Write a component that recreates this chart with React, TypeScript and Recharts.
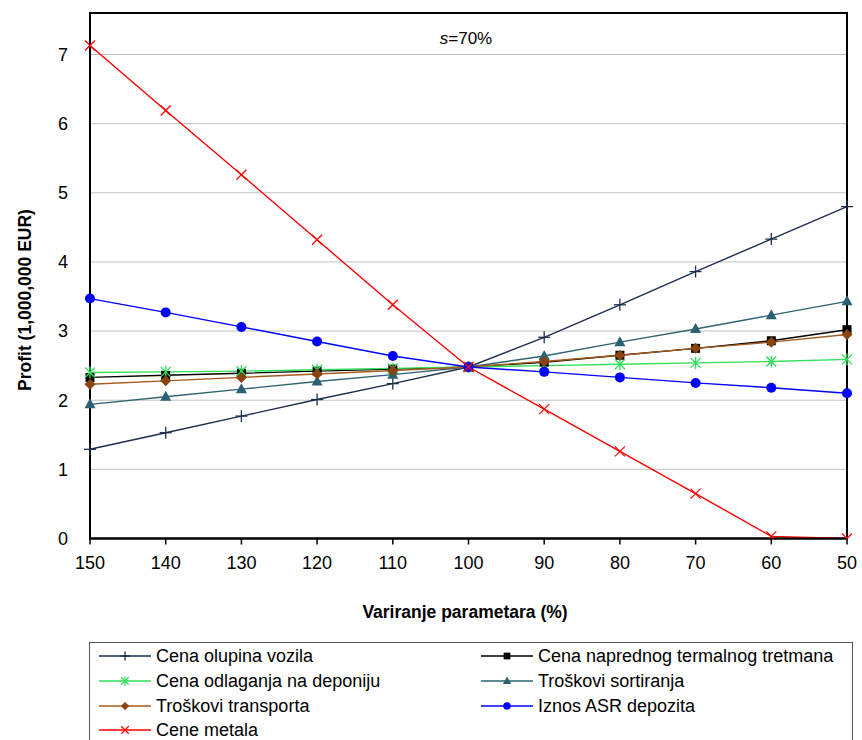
import React from "react";
import {
  LineChart,
  Line,
  XAxis,
  YAxis,
  CartesianGrid,
  ReferenceArea,
} from "recharts";

const categories = ["150", "140", "130", "120", "110", "100", "90", "80", "70", "60", "50"];

const olupina = [1.29, 1.53, 1.77, 2.01, 2.24, 2.48, 2.91, 3.38, 3.86, 4.33, 4.8];
const termalni = [2.33, 2.36, 2.39, 2.42, 2.45, 2.48, 2.55, 2.65, 2.75, 2.86, 3.02];
const deponija = [2.4, 2.41, 2.42, 2.44, 2.46, 2.48, 2.5, 2.52, 2.54, 2.56, 2.59];
const sortiranje = [1.94, 2.05, 2.16, 2.27, 2.37, 2.48, 2.64, 2.84, 3.03, 3.23, 3.43];
const transport = [2.23, 2.28, 2.33, 2.38, 2.43, 2.48, 2.56, 2.65, 2.75, 2.84, 2.95];
const asrDepozit = [3.47, 3.27, 3.06, 2.85, 2.64, 2.48, 2.41, 2.33, 2.25, 2.18, 2.1];
const metali = [7.13, 6.19, 5.26, 4.32, 3.38, 2.48, 1.87, 1.26, 0.65, 0.03, 0.0];

const yTicks = [0, 1, 2, 3, 4, 5, 6, 7];

type MarkerKind = "plus" | "square" | "star" | "triangle" | "diamond" | "circle" | "cross";

const series: { key: string; name: string; color: string; fill: string; marker: MarkerKind; values: number[] }[] = [
  { key: "olupina", name: "Cena olupina vozila", color: "#1c2e4e", fill: "#1c2e4e", marker: "plus", values: olupina },
  { key: "termalni", name: "Cena naprednog termalnog tretmana", color: "#000000", fill: "#000000", marker: "square", values: termalni },
  { key: "deponija", name: "Cena odlaganja na deponiju", color: "#2ee05a", fill: "#2ee05a", marker: "star", values: deponija },
  { key: "sortiranje", name: "Troškovi sortiranja", color: "#2e6474", fill: "#2b6172", marker: "triangle", values: sortiranje },
  { key: "transport", name: "Troškovi transporta", color: "#a65a1c", fill: "#8a4410", marker: "diamond", values: transport },
  { key: "asr", name: "Iznos ASR depozita", color: "#0000ff", fill: "#0000ff", marker: "circle", values: asrDepozit },
  { key: "metali", name: "Cene metala", color: "#ff0000", fill: "#ff0000", marker: "cross", values: metali },
];

const data = categories.map((c, i) => {
  const row: Record<string, string | number> = { cat: c };
  series.forEach((s) => {
    row[s.key] = s.values[i];
  });
  return row;
});

const FONT = "Arial, 'Liberation Sans', sans-serif";

// k scales the marker (legend uses smaller ones)
function Marker({ kind, cx, cy, color, fill, k = 1 }: { kind: MarkerKind; cx: number; cy: number; color: string; fill: string; k?: number }) {
  switch (kind) {
    case "plus":
      return (
        <g stroke={color} strokeWidth={1.3}>
          <line x1={cx - 6 * k} y1={cy} x2={cx + 6 * k} y2={cy} />
          <line x1={cx} y1={cy - 6 * k} x2={cx} y2={cy + 6 * k} />
        </g>
      );
    case "cross":
      return (
        <g stroke={color} strokeWidth={1.2}>
          <line x1={cx - 5 * k} y1={cy - 5 * k} x2={cx + 5 * k} y2={cy + 5 * k} />
          <line x1={cx - 5 * k} y1={cy + 5 * k} x2={cx + 5 * k} y2={cy - 5 * k} />
        </g>
      );
    case "star":
      return (
        <g stroke={color} strokeWidth={1.3}>
          <line x1={cx - 5 * k} y1={cy - 5 * k} x2={cx + 5 * k} y2={cy + 5 * k} />
          <line x1={cx - 5 * k} y1={cy + 5 * k} x2={cx + 5 * k} y2={cy - 5 * k} />
          <line x1={cx} y1={cy - 6 * k} x2={cx} y2={cy + 6 * k} />
        </g>
      );
    case "square":
      return <rect x={cx - 4.5 * k} y={cy - 4.5 * k} width={9 * k} height={9 * k} fill={fill} />;
    case "triangle":
      return <polygon points={`${cx},${cy - 6 * k} ${cx + 5.5 * k},${cy + 4 * k} ${cx - 5.5 * k},${cy + 4 * k}`} fill={fill} />;
    case "diamond":
      return <polygon points={`${cx},${cy - 5.5 * k} ${cx + 5.5 * k},${cy} ${cx},${cy + 5.5 * k} ${cx - 5.5 * k},${cy}`} fill={fill} />;
    case "circle":
      return <circle cx={cx} cy={cy} r={5 * k} fill={fill} />;
  }
  return null;
}

function makeDot(s: (typeof series)[number]) {
  return (props: any) => {
    const { cx, cy, index } = props;
    if (cx == null || cy == null) return <g key={`${s.key}-${index}`} />;
    return (
      <g key={`${s.key}-${index}`}>
        <Marker kind={s.marker} cx={cx} cy={cy} color={s.color} fill={s.fill} />
      </g>
    );
  };
}

function LegendBox() {
  const colX = [8, 390];
  return (
    <div
      style={{
        position: "absolute",
        left: 89,
        top: 642,
        width: 764,
        height: 110,
        border: "1px solid #555",
        boxSizing: "border-box",
        fontFamily: FONT,
        fontSize: 18,
        color: "#000",
      }}
    >
      {series.map((s, i) => {
        const col = i % 2;
        const row = Math.floor(i / 2);
        return (
          <div
            key={s.key}
            style={{
              position: "absolute",
              left: colX[col],
              top: 2 + row * 24.8,
              height: 22,
              display: "flex",
              alignItems: "center",
              whiteSpace: "nowrap",
              lineHeight: "20px",
            }}
          >
            <svg width={54} height={22} style={{ display: "block" }}>
              <line x1={1} y1={11} x2={53} y2={11} stroke={s.color} strokeWidth={1.5} />
              <Marker kind={s.marker} cx={27} cy={11} color={s.color} fill={s.fill} k={0.75} />
            </svg>
            <span style={{ marginLeft: 4 }}>{s.name}</span>
          </div>
        );
      })}
    </div>
  );
}

export default function App() {
  return (
    <div style={{ position: "relative", width: 862, height: 740, overflow: "hidden", background: "#fff" }}>
      <style>{`body{margin:0}`}</style>
      <LineChart
        width={862}
        height={740}
        data={data}
        margin={{ top: 13, right: 15, left: 0, bottom: 0 }}
        style={{ fontFamily: FONT }}
      >
        <CartesianGrid vertical={false} stroke="#c0c0c0" strokeWidth={1} />
        <XAxis
          dataKey="cat"
          height={201.5}
          axisLine={{ stroke: "#000", strokeWidth: 2 }}
          tickLine={{ stroke: "#000", strokeWidth: 1.5 }}
          tickSize={6}
          tickMargin={12}
          tick={{ fill: "#000", fontSize: 18 }}
          interval={0}
        />
        <YAxis
          width={90}
          domain={[0, 7.6]}
          ticks={yTicks}
          allowDataOverflow
          axisLine={{ stroke: "#000", strokeWidth: 2 }}
          tickLine={false}
          tickSize={0}
          tickMargin={22}
          tick={{ fill: "#000", fontSize: 18 }}
        />
        <ReferenceArea
          x1="150"
          x2="50"
          y1={0}
          y2={7.6}
          fill="none"
          stroke="#000"
          strokeWidth={2}
          ifOverflow="visible"
        />
        {series.map((s) => (
          <Line
            key={s.key}
            type="linear"
            dataKey={s.key}
            name={s.name}
            stroke={s.color}
            strokeWidth={1.4}
            dot={makeDot(s)}
            activeDot={false}
            isAnimationActive={false}
          />
        ))}
        <text x={466} y={44} textAnchor="middle" fontSize={17} fill="#000" fontFamily={FONT}>
          <tspan fontStyle="italic">s</tspan>
          <tspan>=70%</tspan>
        </text>
        <text
          x={465}
          y={618}
          textAnchor="middle"
          fontSize={17.5}
          fontWeight="bold"
          fill="#000"
          fontFamily={FONT}
        >
          Variranje parametara (%)
        </text>
        <text
          x={31}
          y={300}
          textAnchor="middle"
          fontSize={17.5}
          fontWeight="bold"
          fill="#000"
          fontFamily={FONT}
          transform="rotate(-90 31 300)"
        >
          Profit (1,000,000 EUR)
        </text>
      </LineChart>
      <LegendBox />
    </div>
  );
}
